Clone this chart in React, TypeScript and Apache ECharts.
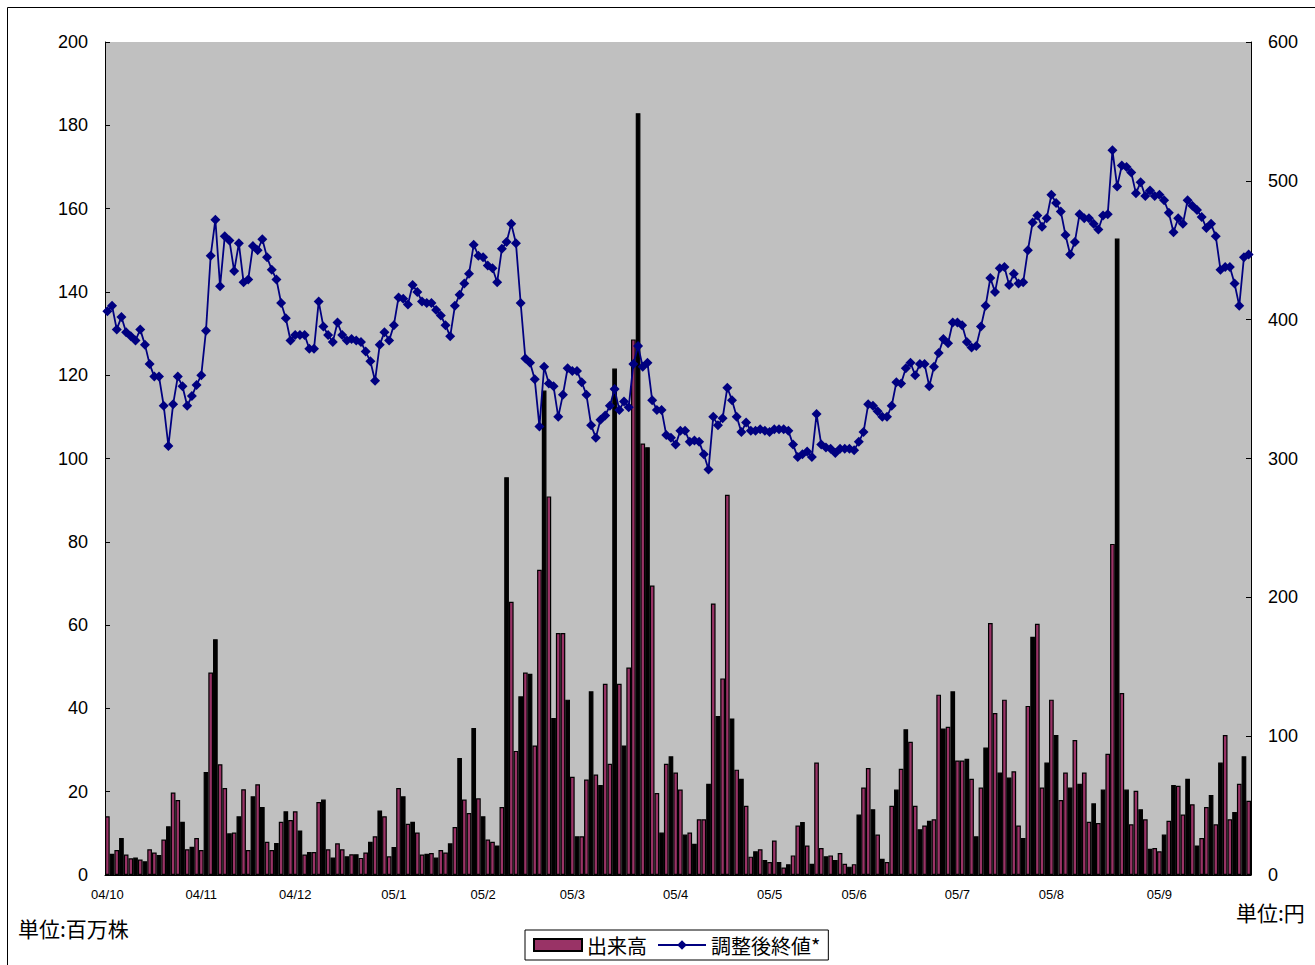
import React, { useEffect, useRef } from "react";
import * as echarts from "echarts";

// Month labels and trading days per month (category axis)
const MONTHS = ["04/10", "04/11", "04/12", "05/1", "05/2", "05/3", "05/4", "05/5", "05/6", "05/7", "05/8", "05/9"];
const DAYS_PER_MONTH = [20, 20, 21, 19, 19, 22, 20, 18, 22, 20, 23, 20];

// 出来高 (百万株)
const VOLUME = [
  14.1, 5.1, 6, 8.9, 4.9, 4, 4.2, 3.7, 3.3, 6.2, 5.4, 4.8, 8.5, 11.7, 19.8, 18, 12.8, 6.2, 6.8, 8.9,
  6, 24.7, 48.6, 56.6, 26.6, 20.9, 10, 10.2, 14.1, 20.6, 6, 18.9, 21.8, 16.3, 8, 6, 7.7, 12.8, 15.3, 13.2,
  15.3, 10.7, 4.9, 5.5, 5.5, 17.5, 18.1, 6.2, 4.2, 7.6, 6.2, 4.5, 5, 5, 4.1, 5.4, 8, 9.3, 15.5, 14.1,
  4.5, 6.7, 20.9, 18.9, 12.3, 12.8, 10.2, 4.9, 5.1, 5.3, 4.2, 6, 5.4, 7.6, 11.5, 28.1, 18.1, 14.9, 35.3, 18.4,
  14.1, 8.5, 8, 7.1, 16.3, 95.5, 65.6, 29.8, 42.9, 48.6, 48.3, 31.1, 73.3, 116.3, 90.9, 37.7, 58.1, 58.1, 42.1, 23.6,
  9.3, 9.3, 22.9, 44.1, 24.1, 21.6, 45.9, 26.7, 121.6, 45.9, 31.1, 49.8, 128.6, 182.9, 103.6, 102.7, 69.5, 19.7, 10.2, 26.7,
  28.5, 24.6, 20.5, 9.7, 10.2, 7.5, 13.4, 13.4, 21.9, 65.2, 38.2, 47.2, 91.3, 37.6, 25.3, 23.1, 16.6, 4.4, 5.7, 6.2,
  3.6, 3.1, 8.3, 3.1, 1.8, 2.6, 4.7, 11.9, 12.7, 7.1, 2.7, 27, 6.5, 4.5, 4.7, 3.6, 5.3, 2.7, 2, 2.6,
  14.5, 21, 25.7, 15.8, 9.7, 3.9, 3.1, 16.6, 20.5, 25.5, 35, 32, 16.6, 11, 11.9, 13, 13.4, 43.3, 35.2, 35.6,
  44.1, 27.5, 27.5, 27.9, 23.1, 9.3, 21, 30.6, 60.5, 38.9, 24.6, 42.1, 23.4, 24.9, 11.9, 8.9, 40.6, 57.2, 60.3, 21,
  27, 42.1, 33.6, 18, 24.6, 21, 32.4, 21.9, 24.6, 12.8, 17.2, 12.5, 20.5, 29.1, 79.5, 152.8, 43.7, 20.5, 12.2, 20.2,
  15.8, 13.4, 6.3, 6.5, 5.7, 9.7, 13, 21.6, 21.4, 14.5, 23.1, 17, 7.1, 8.9, 16.3, 19.2, 12.2, 27, 33.6, 13.4,
  15.1, 21.9, 28.5, 17.8,
];

// 調整後終値* (円)
const PRICE = [
  406, 410, 393, 402, 391, 388, 385, 393, 382, 368, 359, 359, 338, 309, 339, 359, 352, 338, 345, 353,
  360, 392, 446, 472, 424, 460, 457, 435, 455, 427, 429, 453, 450, 458, 445, 436, 429, 412, 401, 385,
  389, 389, 389, 379, 379, 413, 395, 389, 384, 398, 389, 385, 386, 385, 384, 377, 370, 356, 382, 391,
  385, 396, 416, 415, 411, 425, 420, 413, 412, 412, 407, 403, 396, 388, 410, 418, 426, 433, 454, 446,
  445, 439, 437, 427, 451, 456, 469, 455, 412, 372, 369, 357, 323, 366, 354, 352, 330, 346, 365, 363,
  363, 355, 346, 324, 315, 328, 331, 338, 350, 335, 341, 337, 368, 381, 366, 369, 342, 335, 335, 317,
  315, 310, 320, 320, 312, 313, 312, 303, 292, 330, 324, 329, 351, 342, 330, 319, 326, 320, 320, 321,
  320, 319, 321, 321, 321, 320, 310, 301, 303, 305, 301, 332, 310, 308, 307, 304, 307, 307, 307, 306,
  312, 319, 339, 338, 334, 330, 330, 338, 355, 354, 365, 369, 360, 368, 368, 352, 366, 376, 386, 383,
  398, 398, 396, 384, 380, 381, 395, 410, 430, 420, 437, 438, 425, 433, 426, 427, 450, 470, 475, 467,
  473, 490, 484, 478, 461, 447, 456, 476, 473, 473, 469, 465, 475, 476, 522, 496, 511, 510, 506, 491,
  499, 489, 493, 489, 490, 486, 477, 463, 473, 469, 486, 482, 479, 474, 466, 469, 460, 436, 438, 438,
  426, 410, 445, 447,
];

const SERIES_BAR = "出来高";
const SERIES_LINE = "調整後終値*";

// Build categories from month labels and their trading-day counts
const CATEGORIES: string[] = [];
const MONTH_STARTS = new Set<number>();
MONTHS.forEach((m, mi) => {
  MONTH_STARTS.add(CATEGORIES.length);
  for (let d = 0; d < DAYS_PER_MONTH[mi]; d++) CATEGORIES.push(`${m}|${d + 1}`);
});

// Emulates the original raster rendering where some thin bars appear as solid black outlines
function isOutlineOnly(i: number): boolean {
  const v = 0.401639 * i + 0.895;
  return v - Math.floor(v) < 0.4;
}

const CJK = "'Noto Sans CJK JP', 'Noto Sans', sans-serif";
const LATIN = "'Liberation Sans', Arial, 'Noto Sans CJK JP', sans-serif";

export default function App() {
  const ref = useRef<HTMLDivElement>(null);

  useEffect(() => {
    if (!ref.current) return;
    const chart = echarts.init(ref.current, undefined, { renderer: "svg" });
    chart.setOption({
      animation: false,
      backgroundColor: "#ffffff",
      textStyle: { fontFamily: LATIN },
      grid: {
        left: 105,
        right: 64,
        top: 42,
        bottom: 90,
        show: true,
        backgroundColor: "#C0C0C0",
        borderWidth: 0,
      },
      graphic: [
        {
          type: "rect",
          shape: { x: 7.5, y: 7.5, width: 1400, height: 1000 },
          style: { fill: "none", stroke: "#000", lineWidth: 1 },
          silent: true,
        },
        {
          type: "text",
          left: 18,
          top: 917,
          style: { text: "単位:百万株", fontSize: 21, fontFamily: CJK, fill: "#000" },
        },
        {
          type: "text",
          left: 1236,
          top: 901,
          style: { text: "単位:円", fontSize: 21, fontFamily: CJK, fill: "#000" },
        },
      ],
      legend: {
        left: 525,
        top: 930,
        orient: "horizontal",
        padding: [5, 8],
        itemGap: 10,
        itemWidth: 48,
        itemHeight: 12,
        borderColor: "#000",
        borderWidth: 1,
        backgroundColor: "#fff",
        selectedMode: false,
        textStyle: { fontSize: 20, fontFamily: CJK, color: "#000" },
        data: [
          { name: SERIES_BAR, icon: "rect" },
          { name: SERIES_LINE },
        ],
      },
      xAxis: {
        type: "category",
        data: CATEGORIES,
        boundaryGap: true,
        axisLine: { show: true, lineStyle: { color: "#000", width: 1 } },
        axisTick: { show: false },
        splitLine: { show: false },
        axisLabel: {
          interval: (i: number) => MONTH_STARTS.has(i),
          formatter: (v: string) => v.split("|")[0],
          fontSize: 13,
          color: "#000",
          margin: 13,
          fontFamily: LATIN,
        },
      },
      yAxis: [
        {
          type: "value",
          position: "left",
          min: 0,
          max: 200,
          interval: 20,
          axisLine: { show: true, lineStyle: { color: "#000", width: 1 } },
          axisTick: { show: true, inside: true, length: 5, lineStyle: { color: "#000" } },
          axisLabel: { fontSize: 18, color: "#000", margin: 17, fontFamily: LATIN },
          splitLine: { show: false },
        },
        {
          type: "value",
          position: "right",
          min: 0,
          max: 600,
          interval: 100,
          axisLine: { show: true, lineStyle: { color: "#000", width: 1 } },
          axisTick: { show: true, inside: true, length: 5, lineStyle: { color: "#000" } },
          axisLabel: { fontSize: 18, color: "#000", margin: 17, fontFamily: LATIN },
          splitLine: { show: false },
        },
      ],
      series: [
        {
          name: SERIES_BAR,
          type: "bar",
          yAxisIndex: 0,
          barCategoryGap: "0%",
          itemStyle: { color: "#993366", borderColor: "#000", borderWidth: 1.2 },
          data: VOLUME.map((v, i) =>
            isOutlineOnly(i) ? { value: v, itemStyle: { color: "#000" } } : v
          ),
        },
        {
          name: SERIES_LINE,
          type: "line",
          yAxisIndex: 1,
          data: PRICE,
          symbol: "diamond",
          symbolSize: 10,
          showAllSymbol: true,
          lineStyle: { color: "#000080", width: 1.8 },
          itemStyle: { color: "#000080" },
          z: 3,
        },
      ],
    });
    return () => chart.dispose();
  }, []);

  return (
    <div
      ref={ref}
      style={{ position: "fixed", left: 0, top: 0, width: 1315, height: 965, background: "#fff" }}
    />
  );
}
